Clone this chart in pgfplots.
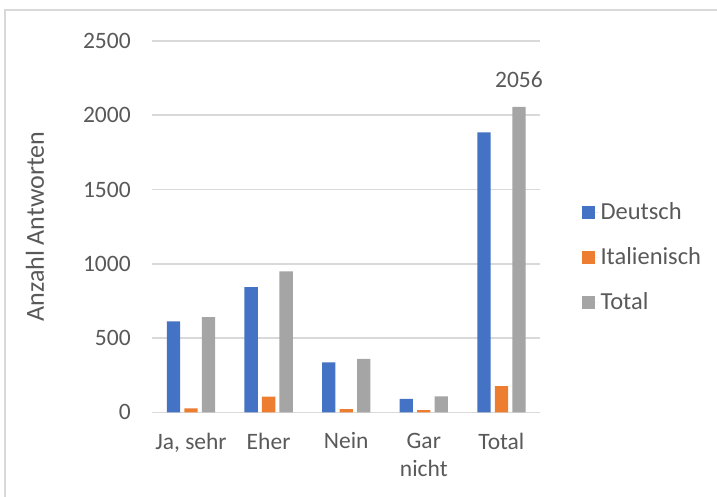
\documentclass[border=0pt]{standalone}
\usepackage{pgfplots}
\pgfplotsset{compat=1.18}
\usepackage{fontspec}
\setmainfont{Carlito}
\definecolor{cD}{HTML}{4472C4}
\definecolor{cI}{HTML}{ED7D31}
\definecolor{cT}{HTML}{A5A5A5}
\definecolor{txt}{HTML}{595959}
\definecolor{grd}{HTML}{D9D9D9}
\begin{document}
\begin{tikzpicture}[x=1bp,y=1bp]
\useasboundingbox (0,0) rectangle (717,497);
\draw[grd, line width=1.5bp] (5,-2) -- (5,487) -- (720,487);
\begin{axis}[
  at={(152.2bp,84.7bp)}, anchor=south west,
  width=388bp, height=371.3bp, scale only axis,
  xmin=-0.5, xmax=4.5, ymin=0, ymax=2500,
  ybar=4.2bp, bar width=13.3bp,
  xtick={0,1,2,3,4},
  xticklabels={{Ja, sehr},Eher,Nein,{Gar\\nicht},Total},
  xticklabel style={align=center, text=txt, font=\fontsize{23.5bp}{28bp}\selectfont, yshift=-17bp},
  ytick={0,500,1000,1500,2000,2500},
  yticklabel style={text=txt, font=\fontsize{23.5bp}{28bp}\selectfont, xshift=-18bp},
  /pgf/number format/assume math mode=true,
  /pgf/number format/1000 sep={},
  major tick length=0pt,
  axis line style={draw=none},
  ymajorgrids, grid style={grd, line width=1.5bp},
  ylabel={Anzahl Antworten},
  every axis y label/.style={at={(axis description cs:-0.302,0.5)}, anchor=center, rotate=90,
    text=txt, font=\fontsize{26bp}{30bp}\selectfont},
  legend style={at={(1.106,0.418)}, anchor=west, draw=none, fill=none,
    font=\fontsize{24.5bp}{29bp}\selectfont, text=txt, row sep=22.5bp, inner sep=0pt,
    legend cell align=left},
  legend image code/.code={\path (0bp,0bp) -- (17bp,0bp);\fill[#1] (0bp,-6.5bp) rectangle (13bp,6.5bp);},
  nodes near coords style={text=txt, font=\fontsize{23.5bp}{28bp}\selectfont, yshift=16bp},
]
\addplot[fill=cD, draw=none] coordinates {(0,613) (1,842) (2,336) (3,90) (4,1884)};
\addplot[fill=cI, draw=none] coordinates {(0,27) (1,105) (2,22) (3,15) (4,177)};
\addplot[fill=cT, draw=none, nodes near coords, point meta=explicit symbolic]
  coordinates {(0,640) [] (1,949) [] (2,359) [] (3,107) [] (4,2056) [2056]};
\legend{Deutsch, Italienisch, Total}
\end{axis}
\end{tikzpicture}
\end{document}
